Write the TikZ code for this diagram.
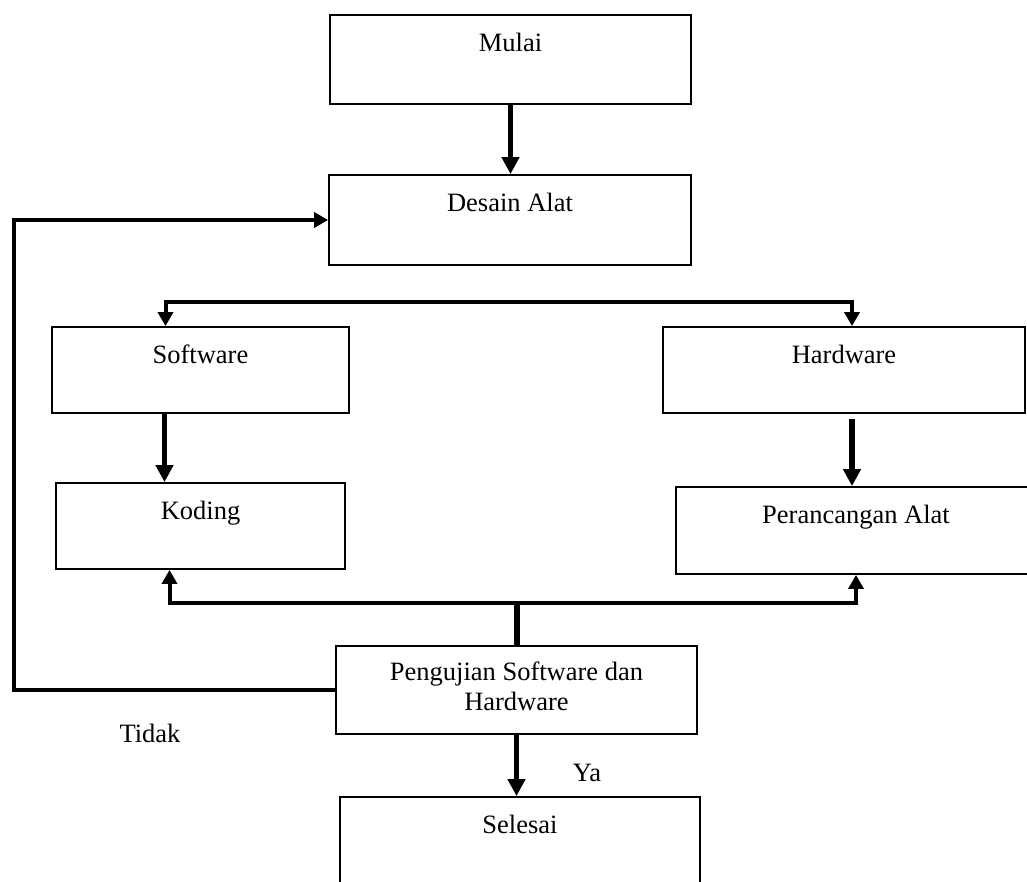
\documentclass[tikz,border=0pt]{standalone}
\usepackage{fontspec}
\setmainfont{Liberation Serif}
\usetikzlibrary{arrows.meta}

\begin{document}
\begin{tikzpicture}
  [x=1pt,y=-1pt,
   every node/.style={font=\fontsize{26.5}{30}\selectfont},
   kotak/.style={draw,line width=1.8pt,inner sep=0pt,text height=36pt},
   panah/.style={line width=5.5pt,-{Triangle[length=17pt,width=17pt]}},
   garis/.style={line width=4pt},
   cabang/.style={garis,{Triangle[length=14pt,width=15pt]}-{Triangle[length=14pt,width=15pt]}}]
  \useasboundingbox (0,0) rectangle (1027,881);
  \clip (0,0) rectangle (1027,881);

  \node[kotak,minimum width=361pt,text depth=53pt] (nmulai) at (510.5,59.5) {Mulai};
  \node[kotak,minimum width=362pt,text depth=54pt] (ndesain) at (510,220) {Desain Alat};
  \node[kotak,minimum width=297pt,text depth=50pt] (nsoftware) at (200.5,370) {Software};
  \node[kotak,minimum width=362pt,text depth=50pt] (nhardware) at (844,370) {Hardware};
  \node[kotak,minimum width=289pt,text depth=50pt] (nkoding) at (200.5,526) {Koding};
  \node[kotak,minimum width=360pt,text depth=51pt] (nrancang) at (856,530.5) {Perancangan Alat};
  \node[kotak,minimum width=361pt,text height=64pt,text depth=24pt,align=center] (nuji) at (516.5,690) {Pengujian Software dan\\Hardware};
  \node[kotak,minimum width=360pt,text depth=52pt] (nselesai) at (520,841) {Selesai};

  \node[anchor=base] (ntidak) at (150,742) {Tidak};
  \node[anchor=base] (nya) at (587,781) {Ya};

  \coordinate (kiri) at (14,0);
  \coordinate (atas) at (0,302);
  \coordinate (bawah) at (0,603);

  \foreach \from/\to in {nmulai/ndesain,nuji/nselesai}
    \draw[panah] (\from.south) -- (\from.south |- \to.north);
  \draw[panah] ([xshift=-36pt]nsoftware.south) -- ([xshift=-36pt]nsoftware.south |- nkoding.north);
  \draw[panah] ([xshift=8pt,yshift=-5pt]nhardware.south) -- ([xshift=8pt]nhardware.south |- nrancang.north);

  \draw[cabang] ([xshift=-35pt]nsoftware.north) -- ([xshift=-35pt]nsoftware.north |- atas) -| ([xshift=8pt]nhardware.north);
  \draw[cabang] ([xshift=-31pt]nkoding.south) -- ([xshift=-31pt]nkoding.south |- bawah) -| (nrancang.south);
  \draw[garis,line width=6pt] (nuji.north) -- (nuji.north |- bawah);
  \draw[garis,-{Triangle[length=14pt,width=15pt]}] (nuji.west) -- (nuji.west -| kiri) |- (ndesain.west);
\end{tikzpicture}
\end{document}
